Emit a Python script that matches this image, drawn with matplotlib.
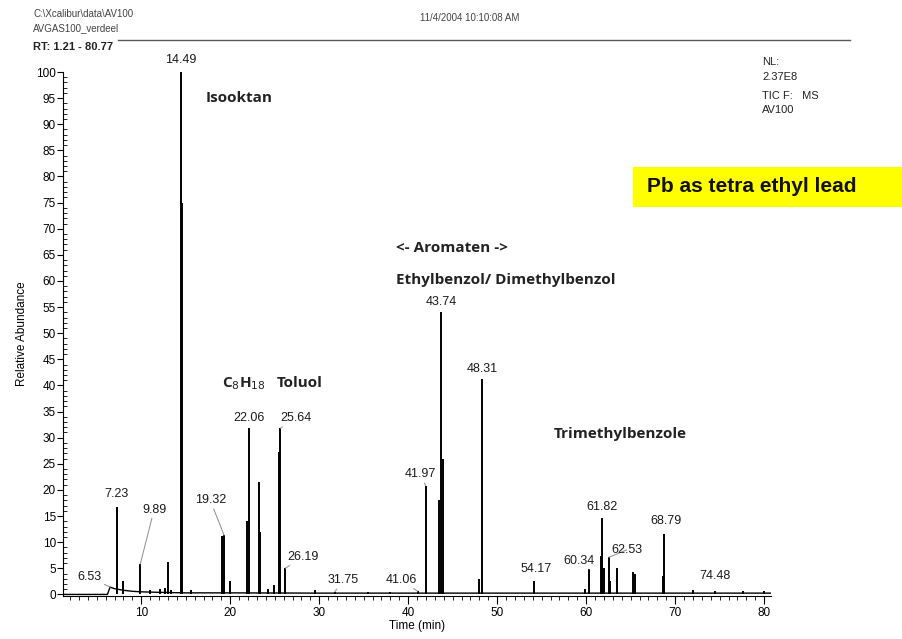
import numpy as np
import matplotlib
matplotlib.use("Agg")
import matplotlib.pyplot as plt
from matplotlib.lines import Line2D
from matplotlib.patches import Rectangle
from matplotlib.ticker import MultipleLocator

plt.rcParams['font.family'] = ['Liberation Sans', 'DejaVu Sans']

# chromatogram peaks: retention time (min) and relative abundance (%)
peak_rt = [7.23, 7.95, 9.89, 11.0, 12.1, 12.7, 13.0, 13.4, 14.49, 14.58, 15.6,
           19.05, 19.32, 19.95, 21.9, 22.06, 23.22, 23.38, 24.3, 24.9, 25.5,
           25.64, 26.19, 29.5, 31.75, 35.5, 38.0, 41.06, 41.97, 43.5, 43.74,
           43.92, 47.95, 48.31, 54.17, 59.85, 60.34, 61.65, 61.82, 62.0, 62.53,
           62.7, 63.45, 65.3, 65.45, 68.6, 68.79, 72.0, 74.48, 77.6, 80.0]
peak_height = [16.7, 2.5, 5.8, 0.8, 1.0, 1.2, 6.2, 0.8, 100, 75, 0.8,
               11.1, 11.3, 2.5, 14.0, 31.8, 21.5, 12.0, 1.0, 1.9, 27.3,
               31.8, 5.0, 0.8, 0.5, 0.4, 0.4, 0.6, 20.8, 18.0, 54.0,
               26.0, 3.0, 41.3, 2.6, 1.0, 4.8, 7.4, 14.7, 5.0, 7.1,
               2.5, 5.1, 4.3, 4.0, 3.5, 11.5, 0.8, 0.7, 0.6, 0.6]

# baseline drift
base_t = [1.21, 6.2, 6.5, 7.0, 8.0, 9.0, 10.0, 12.0, 15.0, 20.0,
          30.0, 40.0, 50.0, 60.0, 70.0, 80.77]
base_y = [0.0, 0.0, 1.4, 1.1, 0.8, 0.6, 0.5, 0.4, 0.3, 0.3,
          0.25, 0.25, 0.25, 0.25, 0.25, 0.25]

# labelled retention times
label_rt = [6.53, 7.23, 9.89, 14.49, 19.32, 22.06, 25.64, 26.19, 31.75, 41.06,
            41.97, 43.74, 48.31, 54.17, 60.34, 61.82, 62.53, 68.79, 74.48]

# label offsets in points (dx, dy) from the peak top
label_off = {6.53: (-15, 3), 7.23: (0, 5), 9.89: (10, 35), 14.49: (0, 4),
             19.32: (-10, 21), 22.06: (0, 3), 25.64: (11, 3), 26.19: (13, 4),
             31.75: (6, 4), 41.06: (-12, 4), 41.97: (-4, 4), 43.74: (0, 3),
             48.31: (0, 3), 54.17: (1, 4), 60.34: (-7, 2), 61.82: (0, 3),
             62.53: (13, 1), 68.79: (1, 5), 74.48: (0, 6)}

fig = plt.figure(figsize=(9.03, 6.39), dpi=100)
W, H = 903, 639
ax = fig.add_axes([63 / W, 1 - 596 / H, (771 - 63) / W, (596 - 72) / H])

ax.plot(base_t, base_y, color='black', lw=1.0)
ax.vlines(peak_rt, 0, peak_height, color='black', lw=1.4)

for rt in label_rt:
    if rt in peak_rt:
        h = peak_height[peak_rt.index(rt)]
    else:
        h = np.interp(rt, base_t, base_y)
    dx, dy = label_off[rt]
    ax.annotate(f"{rt:.2f}", xy=(rt, h), xytext=(dx, dy),
                textcoords='offset points', ha='center', va='bottom',
                fontsize=9, color='#1a1a1a', annotation_clip=False,
                arrowprops=dict(arrowstyle='-', color='0.55', lw=0.7,
                                shrinkA=0, shrinkB=0) if abs(dx) > 3 or dy > 8 else None)

# compound annotations
tkw = dict(fontsize=11, fontweight='bold', color='#222222',
           family=['Open Sans', 'DejaVu Sans'])
ax.text(17.2, 95, "Isooktan", va='center', **tkw)
ax.text(19.1, 40.4, "C$_{8}$H$_{18}$", va='center', **tkw)
ax.text(25.2, 40.4, "Toluol", va='center', **tkw)
ax.text(38.6, 66.3, "<- Aromaten ->", va='center', **tkw)
ax.text(38.6, 60.2, "Ethylbenzol/ Dimethylbenzol", va='center', **tkw)
ax.text(56.4, 30.8, "Trimethylbenzole", va='center', **tkw)

ax.set_xlim(1.21, 80.77)
ax.set_ylim(-0.3, 100)
ax.xaxis.set_major_locator(MultipleLocator(10))
ax.xaxis.set_minor_locator(MultipleLocator(1))
ax.yaxis.set_major_locator(MultipleLocator(5))
ax.yaxis.set_minor_locator(MultipleLocator(1))
ax.tick_params(axis='x', which='major', direction='out', length=6, labelsize=8.5, pad=2)
ax.tick_params(axis='x', which='minor', direction='out', length=3)
ax.tick_params(axis='y', which='major', direction='out', length=4, labelsize=8.5, pad=1)
ax.tick_params(axis='y', which='minor', direction='in', length=3)
for s in ['top', 'right']:
    ax.spines[s].set_visible(False)
ax.set_xlabel("Time (min)", fontsize=8.5, labelpad=1)
ax.set_ylabel("Relative Abundance", fontsize=8.5, labelpad=6)

# header
hkw = dict(fontsize=7, color='#444444')
fig.text(33 / W, 1 - 14 / H, "C:\\Xcalibur\\data\\AV100", va='center', **hkw)
fig.text(33 / W, 1 - 28 / H, "AVGAS100_verdeel", va='center', **hkw)
fig.text(470 / W, 1 - 18 / H, "11/4/2004 10:10:08 AM", va='center', ha='center', **hkw)
fig.add_artist(Line2D([118 / W, 850 / W], [1 - 40 / H] * 2, color='0.35', lw=1))
fig.text(33 / W, 1 - 47 / H, "RT: 1.21 - 80.77", va='center', fontsize=8,
         fontweight='bold', color='#222222')
rkw = dict(fontsize=8, color='#222222', va='center')
fig.text(762 / W, 1 - 62 / H, "NL:", **rkw)
fig.text(762 / W, 1 - 77 / H, "2.37E8", **rkw)
fig.text(762 / W, 1 - 96 / H, "TIC F:   MS", **rkw)
fig.text(762 / W, 1 - 110 / H, "AV100", **rkw)

fig.add_artist(Rectangle((633 / W, 1 - 207 / H), (903 - 633) / W, 40 / H,
                         transform=fig.transFigure, facecolor='#ffff00',
                         edgecolor='none'))
fig.text(647 / W, 1 - 187 / H, "Pb as tetra ethyl lead", va='center',
         fontsize=15, fontweight='bold', color='#111111')

fig.savefig("out.png", dpi=100)
